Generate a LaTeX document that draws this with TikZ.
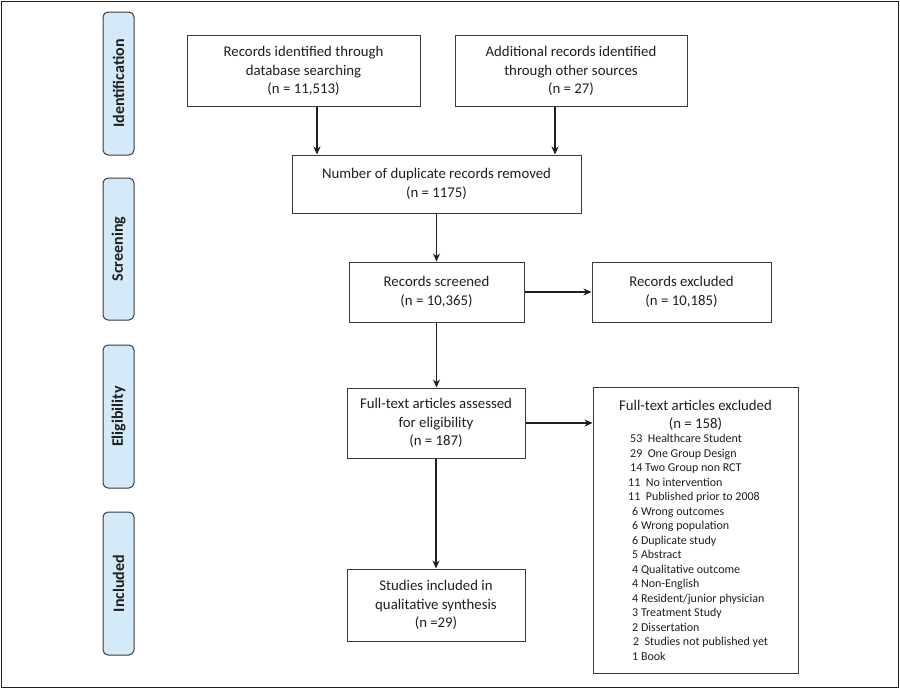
\documentclass[tikz,border=0pt]{standalone}
\usepackage{fontspec}
\setmainfont{Carlito}
\usetikzlibrary{arrows.meta}
\definecolor{sidefill}{HTML}{D4EAF9}
\definecolor{edge}{HTML}{3A3A3A}
\definecolor{ink}{HTML}{1E1E1E}
\tikzset{
  box/.style={draw=edge, line width=1pt, rectangle, align=center, text=ink,
    font=\fontsize{14.8}{18.5}\selectfont, inner sep=0pt},
  side/.style={draw=edge, line width=1pt, fill=sidefill, rounded corners=5pt,
    minimum width=31pt, rotate=90, text=ink, font=\fontsize{16}{18}\selectfont\bfseries, inner sep=0pt},
  arr/.style={draw=ink, line width=1.3pt, -{Stealth[length=8pt,width=7pt]}}
}
\begin{document}
\begin{tikzpicture}[x=1pt,y=-1pt]
\useasboundingbox (0,0) rectangle (900,689);
\draw[ink, line width=1pt] (1,1) rectangle (898,687);
% side labels
\node[side, minimum width=143pt, minimum height=31pt] (sid) at (118.5,83.5) {Identification};
\node[side, minimum width=142pt, minimum height=31pt] (ssc) at (118.5,249) {Screening};
\node[side, minimum width=143pt, minimum height=31pt] (sel) at (118.5,416.5) {Eligibility};
\node[side, minimum width=143pt, minimum height=31pt] (sin) at (118.5,583.5) {Included};
% boxes
\node[box, minimum width=233pt, minimum height=71pt] (id1) at (303.5,71) {Records identified through\\database searching\\(n = 11,513)};
\node[box, minimum width=232pt, minimum height=71pt] (id2) at (571,71) {Additional records identified\\through other sources\\(n = 27)};
\node[box, minimum width=289pt, minimum height=58pt] (dup) at (436.5,184) {Number of duplicate records removed\\(n = 1175)};
\node[box, minimum width=175pt, minimum height=60pt] (scr) at (436.5,292) {Records screened\\(n = 10,365)};
\node[box, minimum width=179pt, minimum height=60pt] (ex1) at (681.5,292) {Records excluded\\(n = 10,185)};
\node[box, minimum width=178pt, minimum height=70pt] (ful) at (436,423) {Full-text articles assessed\\for eligibility\\(n = 187)};
\node[box, minimum width=205pt, minimum height=286pt] (ex2) at (695.5,530) {};
\node[text=ink, font=\fontsize{14.8}{17.5}\selectfont, align=center, inner sep=0pt] (ex2t) at (695.5,415.5) {Full-text articles excluded\\(n = 158)};
\node[text=ink, font=\fontsize{12}{14.5}\selectfont, align=left, anchor=north west, inner sep=0pt] (ex2l) at (630,434) {%
53~ Healthcare Student\\
29~ One Group Design\\
14 Two Group non RCT\\
\hspace{-2pt}11~ No intervention\\
\hspace{-2pt}11~ Published prior to 2008\\
\hspace{2pt}6 Wrong outcomes\\
\hspace{2pt}6 Wrong population\\
\hspace{2pt}6 Duplicate study\\
\hspace{2pt}5 Abstract\\
\hspace{2pt}4 Qualitative outcome\\
\hspace{2pt}4 Non-English\\
\hspace{2pt}4 Resident/junior physician\\
\hspace{2pt}3 Treatment Study\\
\hspace{2pt}2 Dissertation\\
\hspace{3pt}2~ Studies not published yet\\
\hspace{2pt}1 Book};
\node[box, minimum width=178pt, minimum height=72pt] (inc) at (436,605) {Studies included in\\qualitative synthesis\\(n =29)};
% connectors
\draw[arr] ([xshift=13.5pt]id1.south) -- ([xshift=13.5pt]id1.south |- dup.north);
\draw[arr] ([xshift=-16pt]id2.south) -- ([xshift=-16pt]id2.south |- dup.north);
\draw[arr] (dup.south) -- (dup.south |- scr.north);
\draw[arr] (scr.east) -- (ex1.west);
\draw[arr] (scr.south) -- (scr.south |- ful.north);
\draw[arr] (ful.east) -- (ful.east -| ex2.west);
\draw[arr] (ful.south) -- (inc.north);
\end{tikzpicture}
\end{document}
